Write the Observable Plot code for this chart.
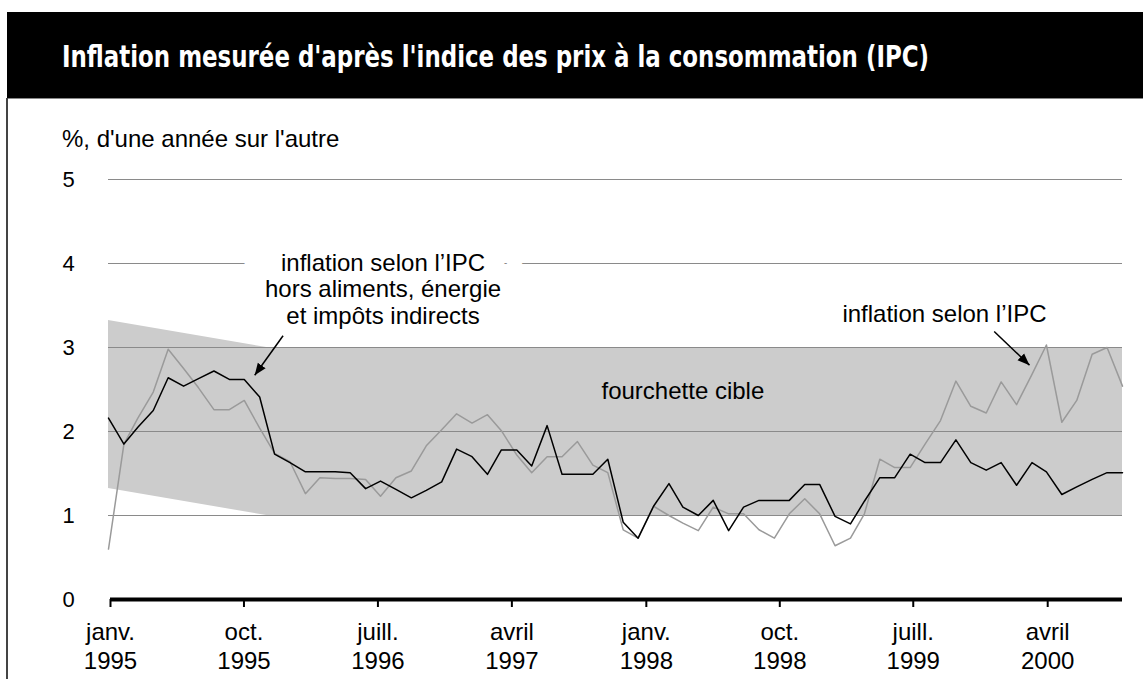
<!DOCTYPE html>
<html><head><meta charset="utf-8">
<script src="https://cdn.jsdelivr.net/npm/d3@7"></script>
<script src="https://cdn.jsdelivr.net/npm/@observablehq/plot@0.6"></script>
<style>
html,body{margin:0;padding:0;background:#fff;}
#wrap{position:relative;width:1143px;height:679px;overflow:hidden;font-family:"Liberation Sans",Arial,Helvetica,sans-serif;}
#titlebar{position:absolute;left:7px;top:12px;width:1136px;height:86px;background:#000;border-bottom:1px solid #888;}
#title{position:absolute;left:55px;top:30px;color:#fff;font-family:"Liberation Sans Narrow","DejaVu Sans Condensed","Liberation Sans",sans-serif;font-weight:bold;font-size:30px;line-height:30px;white-space:nowrap;transform-origin:0 50%;}
#border{position:absolute;left:6px;top:98px;width:2px;height:581px;background:#444;}
#subtitle{position:absolute;left:62px;top:127px;font-size:24px;line-height:24px;color:#000;white-space:nowrap;}
.layer{position:absolute;left:0;top:150px;}
</style></head>
<body>
<div id="wrap">
  <div id="titlebar"><span id="title">Inflation mesurée d'après l'indice des prix à la consommation (IPC)</span></div>
  <div id="border"></div>
  <div id="subtitle">%, d'une année sur l'autre</div>
  <div id="layerA" class="layer"></div>
  <div id="layerB" class="layer"></div>
</div>
<script>
// ---- data ----
const months = d3.utcMonth.range(new Date(Date.UTC(1995,0,1)), new Date(Date.UTC(2000,8,1))); // janv. 1995 .. août 2000
const cpix = [2.16,1.85,2.05,2.25,2.64,2.54,2.63,2.72,2.62,2.62,2.41,1.73,
              1.63,1.52,1.52,1.52,1.51,1.32,1.41,1.31,1.21,1.30,1.40,1.79,
              1.70,1.49,1.78,1.78,1.59,2.07,1.49,1.49,1.49,1.67,0.92,0.73,
              1.11,1.38,1.10,1.00,1.18,0.82,1.10,1.18,1.18,1.18,1.37,1.37,
              0.99,0.90,1.17,1.45,1.45,1.73,1.63,1.63,1.90,1.63,1.54,1.63,
              1.36,1.63,1.52,1.25,1.34,1.43,1.51,1.51];
const cpi  = [0.60,1.85,2.16,2.47,2.98,2.75,2.52,2.26,2.26,2.37,2.04,1.74,
              1.64,1.26,1.45,1.44,1.44,1.43,1.23,1.45,1.53,1.83,2.02,2.21,
              2.10,2.20,2.01,1.72,1.51,1.70,1.70,1.88,1.60,1.51,0.83,0.73,
              1.11,1.00,0.91,0.82,1.10,1.02,1.02,0.83,0.73,1.02,1.20,1.02,
              0.64,0.73,1.02,1.67,1.57,1.57,1.85,2.13,2.60,2.30,2.22,2.59,
              2.32,2.68,3.03,2.11,2.37,2.92,3.00,2.54];
const bandDates = ["1995-01-01","1995-11-15","2000-08-01"];
const bandLow  = [1.32,1.00,1.00];
const bandHigh = [3.32,3.00,3.00];
const gridValues = [1,2,3,4,5];
const yTickValues = [0,1,2,3,4,5];
const tickDates  = ["1995-01-01","1995-10-01","1996-07-01","1997-04-01","1998-01-01","1998-10-01","1999-07-01","2000-04-01"];
const tickMonths = ["janv.","oct.","juill.","avril","janv.","oct.","juill.","avril"];
const tickYears  = ["1995","1995","1996","1997","1998","1998","1999","2000"];
const labelTexts  = ["inflation selon l’IPC","hors aliments, énergie","et impôts indirects","inflation selon l’IPC","fourchette cible"];
const labelDates  = ["1996-07-06","1996-07-06","1996-07-06","1999-08-09","1998-03-01"];
const labelValues = [4.00,3.69,3.375,3.40,2.48];
const arrowFromDates = ["1995-12-18","1999-11-17"];
const arrowFromValues = [3.14,3.19];
const arrowToDates = ["1995-10-22","2000-01-27"];
const arrowToValues = [2.67,2.79];

// ---- tables ----
const series = months.map((d,i)=>({date:d, cpi:cpi[i], cpix:cpix[i]}));
const band = bandDates.map((d,i)=>({date:new Date(d), low:bandLow[i], high:bandHigh[i]}));
const labels = labelTexts.map((t,i)=>({text:t, date:new Date(labelDates[i]), value:labelValues[i]}));
const arrows = arrowFromDates.map((d,i)=>({x1:new Date(d), y1:arrowFromValues[i], x2:new Date(arrowToDates[i]), y2:arrowToValues[i]}));
const tickLabel = new Map(tickDates.map((d,i)=>[+new Date(d), tickMonths[i]+"\n"+tickYears[i]]));

const FONT = '"Liberation Sans", Arial, Helvetica, sans-serif';
const H = 530, MT = 29, MB = 81;

function solidArrow(color) {
  const m = d3.create("svg:marker")
    .attr("viewBox","-10 -5 10 10")
    .attr("markerWidth",12).attr("markerHeight",12)
    .attr("markerUnits","userSpaceOnUse")
    .attr("orient","auto").attr("refX",0).attr("refY",0);
  m.append("path").attr("d","M-10,-4L0,0L-10,4Z").attr("fill",color).attr("stroke","none");
  return m.node();
}

function buildA(useMarker) {
  const arrowMark = useMarker
    ? Plot.link(arrows, {x1:"x1", y1:"y1", x2:"x2", y2:"y2", stroke:"#000", strokeWidth:1.5, markerEnd: solidArrow})
    : Plot.arrow(arrows, {x1:"x1", y1:"y1", x2:"x2", y2:"y2", stroke:"#000", strokeWidth:1.5, headLength:11, headAngle:45});
  return Plot.plot({
    width:1143, height:H, marginTop:MT, marginBottom:MB, marginLeft:108, marginRight:21,
    x:{type:"utc", domain:[months[0], months[months.length-1]], axis:null},
    y:{domain:[0,5], axis:null},
    style:{fontFamily:FONT, fontSize:"24px", background:"transparent", overflow:"visible", color:"#000"},
    marks:[
      Plot.areaY(band, {x:"date", y1:"low", y2:"high", fill:"#cccccc"}),
      Plot.ruleY(gridValues, {stroke:"#8a8a8a", strokeWidth:1}),
      Plot.axisY({ticks:yTickValues, tickFormat:d=>String(d), anchor:"left", tickSize:0, tickPadding:0, textAnchor:"start", dx:-46, fontSize:22, fill:"#000"}),
      Plot.line(series, {x:"date", y:"cpi", stroke:"#9a9a9a", strokeWidth:1.5}),
      Plot.line(series, {x:"date", y:"cpix", stroke:"#000", strokeWidth:1.5}),
      Plot.text(labels.slice(0,1), {x:"date", y:"value", text:"text", fill:"#000", stroke:"#fff", strokeWidth:76, fontSize:24}),
      Plot.text(labels.slice(1), {x:"date", y:"value", text:"text", fill:"#000", fontSize:24}),
      arrowMark
    ]
  });
}
let plotA;
try { plotA = buildA(true); } catch(e) { plotA = buildA(false); }
document.getElementById("layerA").appendChild(plotA);

const plotB = Plot.plot({
  width:1143, height:H, marginTop:MT, marginBottom:MB, marginLeft:110, marginRight:21,
  x:{type:"utc", domain:[new Date("1995-01-01"), new Date("2000-09-01")], axis:null},
  y:{domain:[0,5], axis:null},
  style:{fontFamily:FONT, fontSize:"24px", background:"transparent", overflow:"visible", color:"#000"},
  marks:[
    Plot.axisX({ticks:tickDates.map(d=>new Date(d)), tickFormat:d=>tickLabel.get(+d), anchor:"bottom",
                tickSize:8, tickPadding:12, strokeWidth:2, fontSize:24, lineHeight:1.2, fill:"#000", stroke:"#000"}),
    Plot.ruleY([0], {stroke:"#000", strokeWidth:4})
  ]
});
document.getElementById("layerB").appendChild(plotB);

// fit the condensed title to its width in the reference
const t = document.getElementById("title");
const w = t.getBoundingClientRect().width;
if (w > 0) t.style.transform = `scaleX(${867 / w})`;
</script>
</body></html>
